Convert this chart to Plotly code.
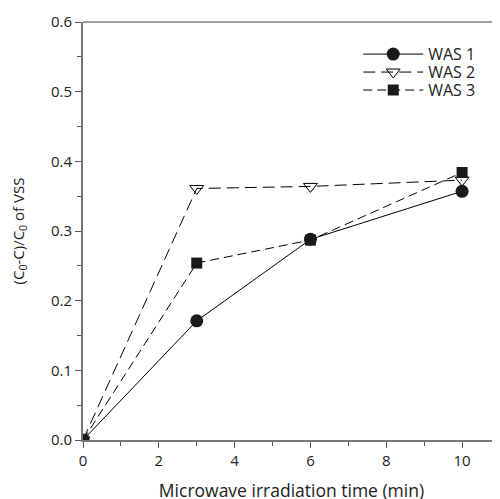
import plotly.graph_objects as go

time_min = [0, 3, 6, 10]
was1 = [0.0, 0.171, 0.288, 0.357]
was2 = [0.0, 0.361, 0.364, 0.373]
was3 = [0.0, 0.254, 0.287, 0.384]
x_ticks = [0, 2, 4, 6, 8, 10]
y_ticks = [0.0, 0.1, 0.2, 0.3, 0.4, 0.5, 0.6]

fig = go.Figure()
fig.add_trace(go.Scatter(x=time_min, y=was1, name="WAS 1", mode="lines+markers",
                         line=dict(color="black", width=1), legend="legend",
                         marker=dict(symbol="circle", size=13, color="#1a1a1a")))
fig.add_trace(go.Scatter(x=time_min, y=was2, name="WAS 2", mode="lines+markers",
                         line=dict(color="black", width=1, dash="12px,6px"), legend="legend2",
                         marker=dict(symbol="triangle-down-open", size=12, color="black", line=dict(width=1))))
fig.add_trace(go.Scatter(x=time_min, y=was3, name="WAS 3", mode="lines+markers",
                         line=dict(color="black", width=1, dash="9px,5px"), legend="legend3",
                         marker=dict(symbol="square", size=11, color="#1a1a1a")))

leg_common = dict(x=0.66, xanchor="left", yanchor="middle", bgcolor="rgba(0,0,0,0)",
                  font=dict(size=16), itemwidth=60)
fig.update_layout(
    width=500, height=499,
    margin=dict(l=75, r=8, t=14, b=67, autoexpand=False),
    plot_bgcolor="white", paper_bgcolor="white",
    font=dict(family="Open Sans", size=14, color="#222"),
    showlegend=True,
    legend=dict(y=0.923, **leg_common),
    legend2=dict(y=0.880, **leg_common),
    legend3=dict(y=0.837, **leg_common),
)
fig.update_xaxes(range=[0, 11], tickvals=x_ticks, ticktext=[str(v) for v in x_ticks],
                 ticks="outside", ticklen=6, tickcolor="#555", showline=True,
                 linecolor="#777", linewidth=2, showgrid=False, zeroline=False,
                 automargin=False, tickfont=dict(size=15),
                 minor=dict(dtick=1, ticks="outside", ticklen=4, tickcolor="#555"),
                 title=dict(text="Microwave irradiation time (min)", standoff=16, font=dict(size=17.5)))
fig.update_yaxes(range=[0, 0.6], tickvals=y_ticks, ticktext=[f"{v:.1f}" for v in y_ticks],
                 ticks="outside", ticklen=6, tickcolor="#555", showline=True,
                 linecolor="#777", linewidth=2, showgrid=False, zeroline=False,
                 automargin=False, tickfont=dict(size=15),
                 minor=dict(dtick=0.05, ticks="outside", ticklen=4, tickcolor="#555"),
                 title=dict(text="(C<sub>0</sub>-C)/C<sub>0</sub> of VSS", standoff=24, font=dict(size=15)))
fig.add_shape(type="line", xref="paper", yref="paper", x0=0, x1=1, y0=1, y1=1,
              line=dict(color="#444", width=1.2))

fig.write_html("out.html")
